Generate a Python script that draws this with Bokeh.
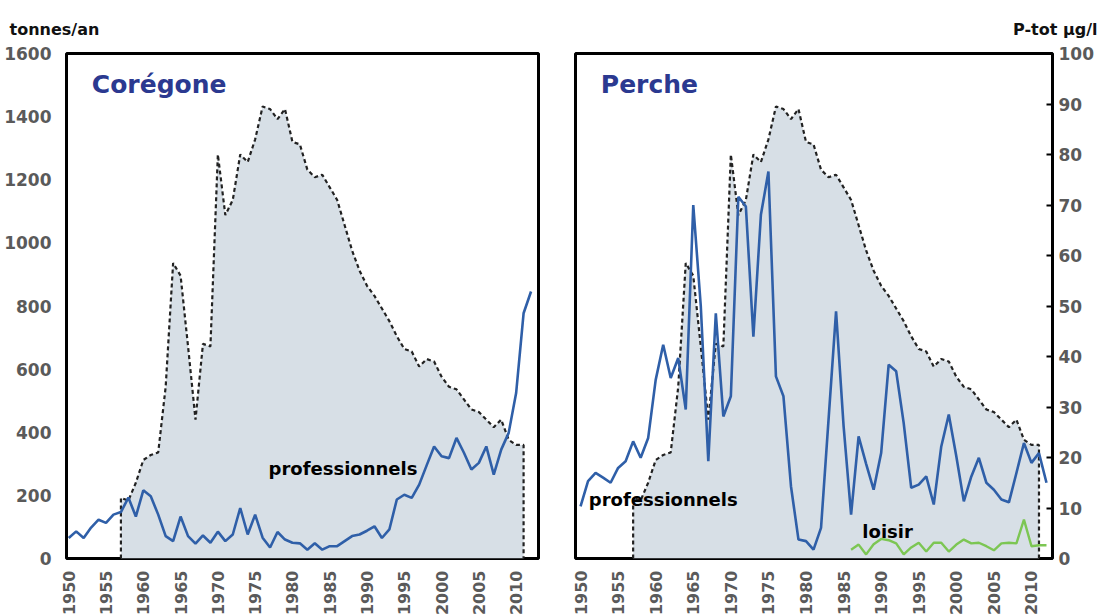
from math import pi
from bokeh.plotting import figure
from bokeh.models import Range1d, LinearAxis, FixedTicker, Label, Title
from bokeh.layouts import row
from bokeh.embed import file_html
from bokeh.resources import INLINE

# ---------------- data ----------------
years = list(range(1950, 2013))
coregone = [65, 86, 65, 98, 123, 113, 139, 147, 193, 133,
            216, 197, 139, 71, 55, 133, 71, 47, 73, 50,
            85, 55, 76, 160, 76, 139, 66, 35, 84, 60,
            50, 48, 28, 48, 28, 39, 39, 55, 71, 76,
            88, 102, 65, 92, 187, 202, 192, 234, 295, 355,
            324, 318, 382, 335, 282, 303, 355, 266, 345, 398,
            524, 777, 846]
perche = [165, 245, 271, 256, 240, 287, 308, 371, 319, 382,
          566, 677, 572, 635, 472, 1120, 800, 308, 777, 450,
          514, 1146, 1115, 703, 1089, 1226, 577, 514, 229, 60,
          55, 28, 97, 440, 783, 420, 139, 387, 300, 218,
          334, 614, 593, 429, 224, 234, 260, 171, 355, 456,
          324, 181, 260, 319, 240, 218, 187, 178, 271, 366,
          303, 334, 240]
loisir_years = list(range(1986, 2013))
loisir = [28, 44, 13, 45, 62, 58, 48, 13, 35, 50,
          22, 50, 50, 22, 44, 60, 48, 50, 39, 26,
          48, 50, 48, 123, 39, 42, 42]
ptot_years = list(range(1957, 2012))
ptot = [12, 11.5, 15, 19.5, 20.5, 21, 34, 58.5, 56, 42,
        27.5, 42.5, 42, 80, 68, 71, 80, 78.5, 83, 89.5,
        89, 87, 89, 82.5, 82, 77, 75.5, 76, 73.5, 71,
        66, 61, 57, 54, 52, 49.5, 47, 44, 41.5, 41,
        38, 39.5, 39, 36, 34, 33.5, 31.5, 29.5, 29, 27.5,
        26, 27.5, 23.5, 22.5, 22.5]
x_ticks = list(range(1950, 2011, 5))
t_ticks = list(range(0, 1601, 200))
p_ticks = list(range(0, 101, 10))

FONT = "DejaVu Sans"
GREY = "#5a5a5a"
BLUE = "#2f5fa8"
GREEN = "#7cc653"
FILL = "#d7dfe6"
TITLE_C = "#2b3990"


def make_panel(x_start, x_end, frame_w, ml, mr, left_axis):
    p = figure(frame_width=frame_w, frame_height=505,
               x_range=Range1d(x_start, x_end), y_range=Range1d(0, 1600),
               output_backend="svg", toolbar_location=None,
               y_axis_location="left" if left_axis else None,
               min_border_left=ml, min_border_right=mr,
               min_border_top=53, min_border_bottom=50,
               background_fill_color="white", border_fill_color="white")
    p.extra_y_ranges = {"ptot": Range1d(0, 100)}
    p.xgrid.visible = False
    p.ygrid.visible = False
    p.outline_line_color = "black"
    p.outline_line_width = 3
    p.outline_line_alpha = 1

    xa = p.xaxis[0]
    xa.ticker = FixedTicker(ticks=x_ticks)
    xa.major_label_orientation = pi / 2
    xa.axis_line_color = None
    xa.major_tick_line_color = None
    xa.minor_tick_line_color = None
    xa.major_label_standoff = 6
    xa.major_label_text_font = FONT
    xa.major_label_text_font_style = "bold"
    xa.major_label_text_font_size = "16px"
    xa.major_label_text_color = GREY

    # P-tot area
    p.varea(x=ptot_years, y1=0, y2=ptot, fill_color=FILL, y_range_name="ptot")
    p.line(x=[ptot_years[0]] + ptot_years + [ptot_years[-1]],
           y=[0] + ptot + [0], line_color="#222222", line_width=2.2,
           line_dash="4 3", y_range_name="ptot")
    return p


# -------- left panel: Corégone --------
p1 = make_panel(1949.7, 2013.0, 472, 66, 18, True)
ya = p1.yaxis[0]
ya.ticker = FixedTicker(ticks=t_ticks)
ya.axis_line_color = None
ya.major_tick_line_color = None
ya.minor_tick_line_color = None
ya.major_label_standoff = 9
ya.major_label_text_font = FONT
ya.major_label_text_font_style = "bold"
ya.major_label_text_font_size = "17px"
ya.major_label_text_color = GREY

p1.line(x=years, y=coregone, line_color=BLUE, line_width=2.6)
p1.add_layout(Label(x=1953.1, y=1503, text="Corégone", text_font=FONT,
                    text_font_style="bold", text_font_size="25px",
                    text_color=TITLE_C, text_baseline="middle"))
p1.add_layout(Label(x=1976.8, y=285, text="professionnels", text_font=FONT,
                    text_font_style="bold", text_font_size="18px",
                    text_color="black", text_baseline="middle"))
p1.add_layout(Title(text="tonnes/an", align="left", offset=-57, standoff=29,
                    text_font=FONT, text_font_style="bold",
                    text_font_size="16px", text_color="#111111"), "above")

# -------- right panel: Perche --------
p2 = make_panel(1949.33, 2012.8, 477, 19, 47, False)
ra = LinearAxis(y_range_name="ptot", ticker=FixedTicker(ticks=p_ticks))
ra.axis_line_color = None
ra.major_tick_in = 6
ra.major_tick_out = 0
ra.major_tick_line_color = "black"
ra.major_tick_line_width = 2
ra.minor_tick_line_color = None
ra.major_label_standoff = 6
ra.major_label_text_font = FONT
ra.major_label_text_font_style = "bold"
ra.major_label_text_font_size = "17px"
ra.major_label_text_color = GREY
p2.add_layout(ra, "right")

p2.line(x=years, y=perche, line_color=BLUE, line_width=2.6)
p2.line(x=loisir_years, y=loisir, line_color=GREEN, line_width=2.4)
p2.add_layout(Label(x=1952.7, y=1503, text="Perche", text_font=FONT,
                    text_font_style="bold", text_font_size="25px",
                    text_color=TITLE_C, text_baseline="middle"))
p2.add_layout(Label(x=1951.1, y=187, text="professionnels", text_font=FONT,
                    text_font_style="bold", text_font_size="18px",
                    text_color="black", text_baseline="middle"))
p2.add_layout(Label(x=1987.5, y=85, text="loisir", text_font=FONT,
                    text_font_style="bold", text_font_size="18px",
                    text_color="black", text_baseline="middle"))
p2.add_layout(Title(text="P-tot µg/l", align="right", offset=-45, standoff=29,
                    text_font=FONT, text_font_style="bold",
                    text_font_size="16px", text_color="#111111"), "above")

layout = row(p1, p2)
open("out.html", "w").write(file_html(layout, INLINE))
